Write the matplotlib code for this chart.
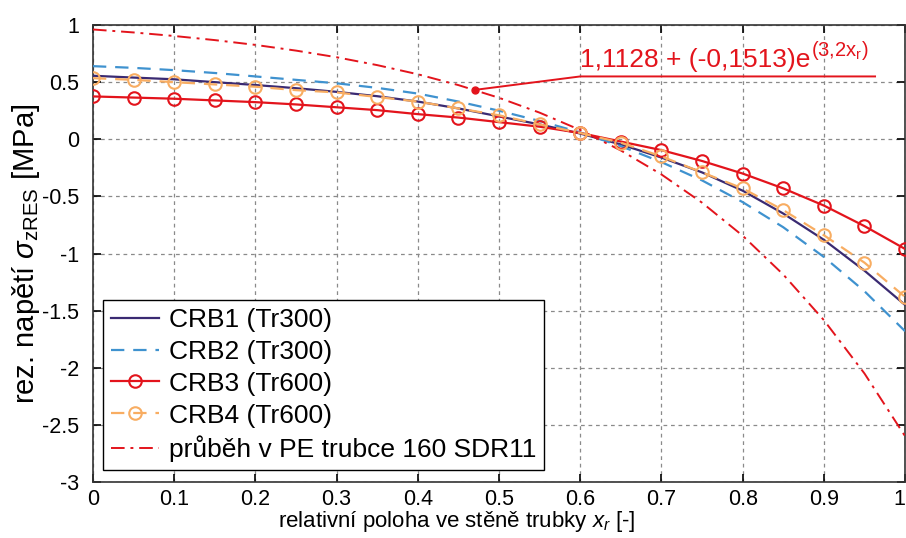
import numpy as np
import matplotlib
matplotlib.use("Agg")
import matplotlib.pyplot as plt

plt.rcParams['font.family'] = ['Liberation Sans', 'DejaVu Sans']
plt.rcParams['mathtext.fontset'] = 'custom'
plt.rcParams['mathtext.rm'] = 'Liberation Sans'
plt.rcParams['mathtext.it'] = 'Liberation Sans:italic'
plt.rcParams['axes.unicode_minus'] = False

# --- data ---
x = [0.0, 0.05, 0.1, 0.15, 0.2, 0.25, 0.3, 0.35, 0.4, 0.45, 0.5,
     0.55, 0.6, 0.65, 0.7, 0.75, 0.8, 0.85, 0.9, 0.95, 1.0]

crb1 = [0.556, 0.54, 0.525, 0.50, 0.475, 0.447, 0.415, 0.377, 0.33, 0.27, 0.2,
        0.13, 0.05, -0.045, -0.16, -0.29, -0.45, -0.65, -0.88, -1.15, -1.45]
crb2 = [0.64, 0.625, 0.605, 0.58, 0.55, 0.52, 0.49, 0.45, 0.40, 0.33, 0.25,
        0.16, 0.06, -0.06, -0.2, -0.36, -0.55, -0.77, -1.03, -1.33, -1.68]
crb3 = [0.375, 0.365, 0.355, 0.34, 0.325, 0.305, 0.28, 0.255, 0.22, 0.19, 0.15,
        0.11, 0.055, -0.02, -0.095, -0.19, -0.30, -0.43, -0.58, -0.76, -0.96]
crb4 = [0.535, 0.52, 0.50, 0.48, 0.46, 0.43, 0.41, 0.37, 0.33, 0.27, 0.21,
        0.13, 0.055, -0.03, -0.15, -0.29, -0.43, -0.62, -0.84, -1.08, -1.38]
pe = [0.961, 0.935, 0.904, 0.868, 0.826, 0.776, 0.718, 0.649, 0.569, 0.474, 0.363,
      0.233, 0.081, -0.098, -0.308, -0.555, -0.844, -1.184, -1.583, -2.05, -2.599]

labels = ['CRB1 (Tr300)', 'CRB2 (Tr300)', 'CRB3 (Tr600)', 'CRB4 (Tr600)',
          'průběh v PE trubce 160 SDR11']

xticks = [0, 0.1, 0.2, 0.3, 0.4, 0.5, 0.6, 0.7, 0.8, 0.9, 1]
xtick_labels = ['0', '0.1', '0.2', '0.3', '0.4', '0.5', '0.6', '0.7', '0.8', '0.9', '1']
yticks = [-3, -2.5, -2, -1.5, -1, -0.5, 0, 0.5, 1]
ytick_labels = ['-3', '-2.5', '-2', '-1.5', '-1', '-0.5', '0', '0.5', '1']

# annotation: point on PE curve, elbow, end of the leader line
ann_x = [0.47, 0.6, 0.963]
ann_y = [0.432, 0.55, 0.55]
formula = '1,1128 + (-0,1513)e'
formula_exp = r'(3,2x$_\mathrm{r}$)'

# --- plot ---
fig = plt.figure(figsize=(9.06, 5.38), dpi=100)
ax = fig.add_axes([0.1026, 0.104, 0.8964, 0.8495])

c_navy = '#3a2a72'
c_blue = '#3f92cf'
c_red = '#e3141c'
c_orange = '#f8ad62'

ax.plot(x, crb1, color=c_navy, lw=1.6, label=labels[0], zorder=3)
ax.plot(x, crb2, color=c_blue, lw=1.6, ls=(0, (6, 4)), label=labels[1], zorder=3)
ax.plot(x, crb3, color=c_red, lw=1.6, marker='o', ms=9, mfc='none', mew=1.5,
        label=labels[2], zorder=4)
ax.plot(x, crb4, color=c_orange, lw=1.6, ls=(0, (6, 4)), marker='o', ms=9,
        mfc='none', mew=1.5, label=labels[3], zorder=4)
ax.plot(x, pe, color=c_red, lw=1.4, ls=(0, (7, 3, 1.5, 3)), label=labels[4], zorder=3)

ax.plot(ann_x, ann_y, color=c_red, lw=1.4, zorder=5)
ax.plot(ann_x[0], ann_y[0], 'o', color=c_red, ms=5, zorder=5)
t_main = ax.text(ann_x[1], ann_y[1] + 0.04, formula, color=c_red, fontsize=19,
                 ha='left', va='bottom')
ax.annotate(formula_exp, xy=(1.0, 0.4), xycoords=t_main, xytext=(0, 0),
            textcoords='offset points', color=c_red, fontsize=14.5,
            ha='left', va='bottom')

ax.set_xlim(0, 1)
ax.set_ylim(-3, 1)
ax.set_xticks(xticks)
ax.set_xticklabels(xtick_labels)
ax.get_xticklabels()[-1].set_horizontalalignment('right')  # "1" sits on the right edge
ax.set_yticks(yticks)
ax.set_yticklabels(ytick_labels)
ax.tick_params(direction='in', top=True, right=True, labelsize=15.5, length=6,
               width=1.2)
ax.tick_params(axis='x', pad=5)
ax.tick_params(axis='y', pad=10)
ax.grid(True, color='#8a8a8a', ls=(0, (3, 3)), lw=0.9)
for s in ax.spines.values():
    s.set_linewidth(1.2)
    s.set_color('#333333')

ax.set_xlabel(r'relativní poloha ve stěně trubky $x_r$ [-]', fontsize=16)
ax.xaxis.set_label_coords(0.448, -0.058)
ax.set_ylabel(r'rez. napětí $\sigma_{\mathrm{zRES}}$ [MPa]', fontsize=21, labelpad=0)

leg = ax.legend(loc='lower left', bbox_to_anchor=(0.012, 0.026), fontsize=19,
                fancybox=False, framealpha=1, edgecolor='black',
                handlelength=1.85, handletextpad=0.35, borderpad=0.3,
                borderaxespad=0, labelspacing=0.3)
leg.get_frame().set_linewidth(1.0)

fig.savefig('out.png', dpi=100)
